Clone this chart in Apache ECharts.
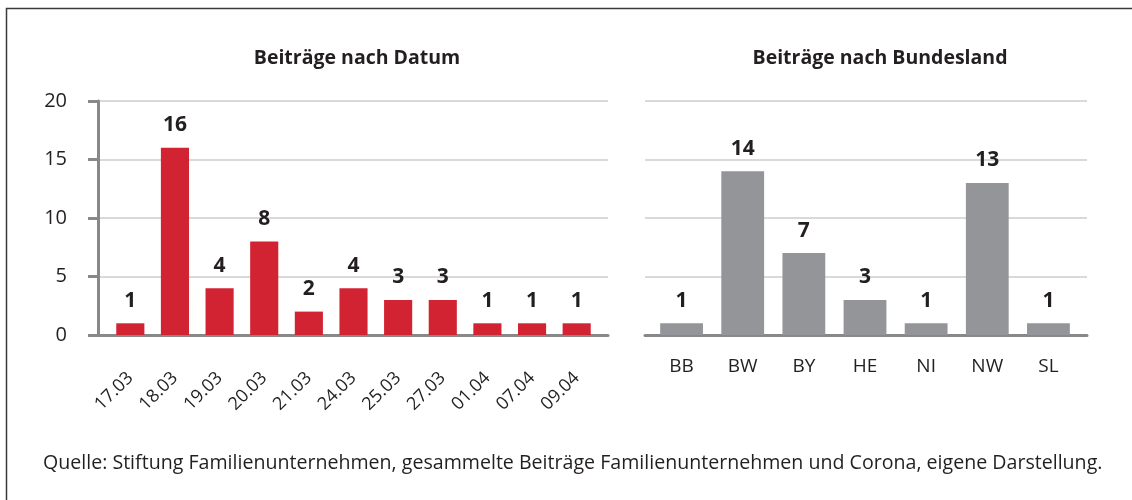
<!DOCTYPE html>
<html>
<head>
<meta charset="utf-8">
<script src="https://cdn.jsdelivr.net/npm/echarts@6/dist/echarts.min.js"></script>
<style>
  html, body { margin: 0; padding: 0; background: #fff; }
  #chart { width: 1132px; height: 500px; }
</style>
</head>
<body>
<div id="chart"></div>
<script>
// Beiträge nach Datum
const dates = ['17.03', '18.03', '19.03', '20.03', '21.03', '24.03', '25.03', '27.03', '01.04', '07.04', '09.04']
const dateCounts = [1, 16, 4, 8, 2, 4, 3, 3, 1, 1, 1]

// Beiträge nach Bundesland
const states = ['BB', 'BW', 'BY', 'HE', 'NI', 'NW', 'SL']
const stateCounts = [1, 14, 7, 3, 1, 13, 1]

const yMin = 0
const yMax = 20
const yStep = 5

const sourceNote = 'Quelle: Stiftung Familienunternehmen, gesammelte Beiträge Familienunternehmen und Corona, eigene Darstellung.'

const font = '"Open Sans", "Noto Sans", sans-serif'
const textColor = '#231f20'
const axisGray = '#87888a'
const gridGray = '#d9d9d9'
const red = '#d22333'
const barGray = '#939598'

const chart = echarts.init(document.getElementById('chart'))

// grid 0/2 carry the value scale + gridlines, grid 1/3 carry the bars (inset like the original)
const valueAxis = (gridIndex, withLabels) => ({
  type: 'value',
  gridIndex,
  min: yMin,
  max: yMax,
  interval: yStep,
  axisLine: { show: withLabels, lineStyle: { color: axisGray, width: 3 } },
  axisTick: { show: withLabels, length: 10, lineStyle: { color: axisGray, width: 3 } },
  axisLabel: { show: withLabels, fontSize: 20, color: textColor, fontFamily: font, margin: 31 },
  splitLine: { show: true, lineStyle: { color: gridGray, width: 2 } }
})

const baseAxis = (gridIndex) => ({
  type: 'value',
  gridIndex,
  min: 0,
  max: 1,
  axisLine: { show: true, onZero: false, lineStyle: { color: axisGray, width: 3 } },
  axisTick: { show: false },
  axisLabel: { show: false },
  splitLine: { show: false }
})

const hiddenY = (gridIndex) => ({
  type: 'value',
  gridIndex,
  min: yMin,
  max: yMax,
  show: false
})

const barLabel = {
  show: true,
  position: 'top',
  distance: 12,
  fontSize: 21,
  fontWeight: 'bold',
  color: textColor,
  fontFamily: font
}

const option = {
  animation: false,
  backgroundColor: '#ffffff',
  title: [
    {
      text: 'Beiträge nach Datum',
      left: 352,
      top: 43,
      textAlign: 'center',
      textStyle: { fontSize: 19.5, fontWeight: 'bold', color: textColor, fontFamily: font }
    },
    {
      text: 'Beiträge nach Bundesland',
      left: 875,
      top: 43,
      textAlign: 'center',
      textStyle: { fontSize: 19.5, fontWeight: 'bold', color: textColor, fontFamily: font }
    },
    {
      text: sourceNote,
      left: 38,
      top: 448,
      textStyle: { fontSize: 19.6, fontWeight: 'normal', color: textColor, fontFamily: font }
    }
  ],
  graphic: [
    {
      type: 'polyline',
      shape: { points: [[6.5, 500], [6.5, 8.5], [1132, 8.5]] },
      style: { stroke: '#3a3a3a', lineWidth: 1.5, fill: null }
    }
  ],
  grid: [
    { left: 98, right: 524, top: 101, bottom: 165 },
    { left: 108, right: 533, top: 101, bottom: 165 },
    { left: 645, right: 45, top: 101, bottom: 165 },
    { left: 651, right: 53, top: 101, bottom: 165 }
  ],
  xAxis: [
    baseAxis(0),
    {
      type: 'category',
      gridIndex: 1,
      data: dates,
      axisLine: { show: false },
      axisTick: { show: false },
      axisLabel: { rotate: 45, fontSize: 18, color: textColor, fontFamily: font, margin: 40 }
    },
    baseAxis(2),
    {
      type: 'category',
      gridIndex: 3,
      data: states,
      axisLine: { show: false },
      axisTick: { show: false },
      axisLabel: { fontSize: 19, color: textColor, fontFamily: font, margin: 22 }
    }
  ],
  yAxis: [
    valueAxis(0, true),
    hiddenY(1),
    valueAxis(2, false),
    hiddenY(3)
  ],
  series: [
    {
      type: 'bar',
      xAxisIndex: 1,
      yAxisIndex: 1,
      data: dateCounts,
      barWidth: '63%',
      itemStyle: { color: red },
      label: barLabel,
      z: 1
    },
    {
      type: 'bar',
      xAxisIndex: 3,
      yAxisIndex: 3,
      data: stateCounts,
      barWidth: '70%',
      itemStyle: { color: barGray },
      label: barLabel,
      z: 1
    }
  ]
}

chart.setOption(option)
</script>
</body>
</html>
